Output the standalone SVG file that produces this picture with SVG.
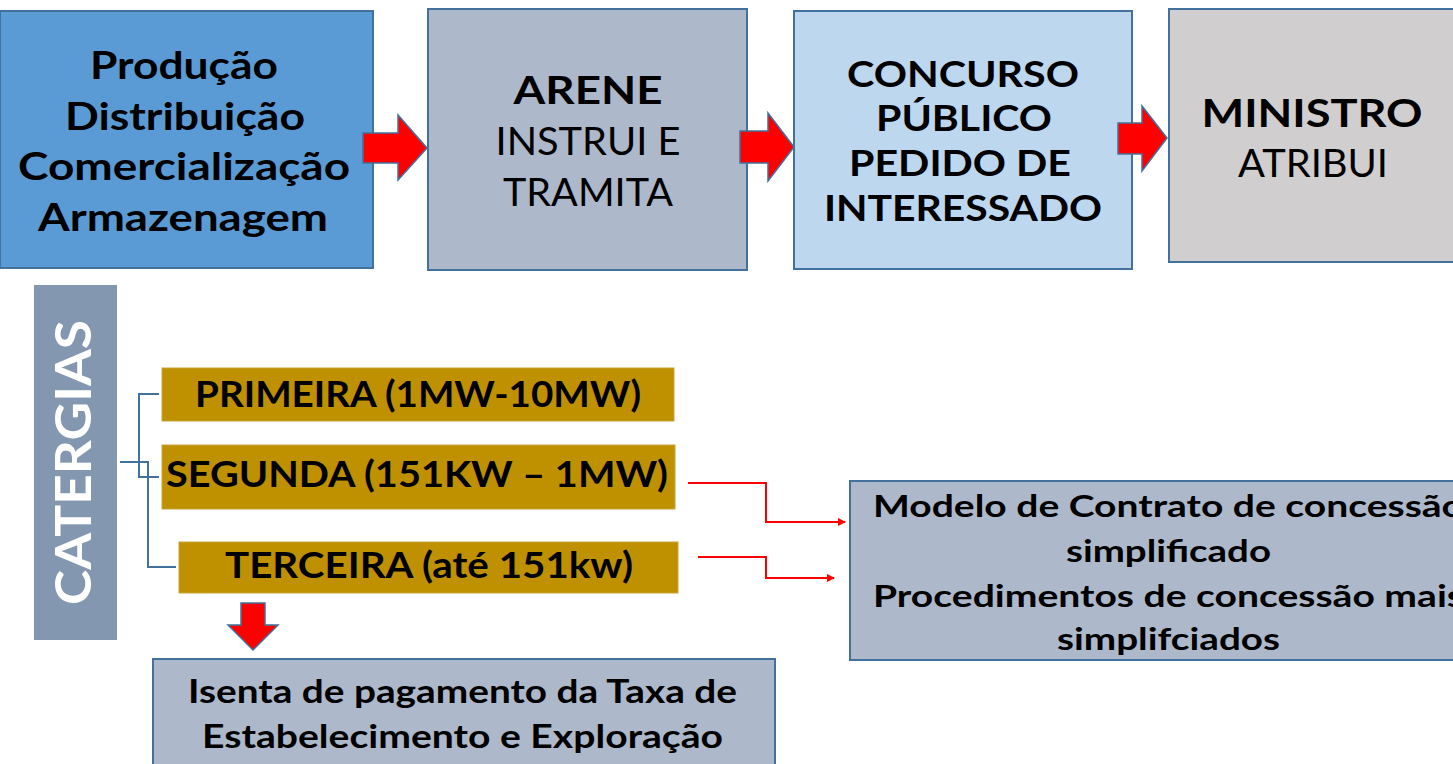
<svg xmlns="http://www.w3.org/2000/svg" width="1453" height="764" viewBox="0 0 1453 764">
<style>
.t{font-family:Lato,"Open Sans","Liberation Sans",sans-serif;fill:#000;text-anchor:middle}
.b{font-weight:bold}
.n{font-weight:normal}
.box{stroke:#41719c;stroke-width:2}
.gold{fill:#bf9000;stroke:#c9a43a;stroke-width:1}
.arr{fill:#ff0000;stroke:#41719c;stroke-width:1.5}
.red{fill:none;stroke:#ff0000;stroke-width:2}
.blue{fill:none;stroke:#41719c;stroke-width:2}
</style>
<defs>
<marker id="ah" markerWidth="8" markerHeight="8" refX="7" refY="4" orient="auto" markerUnits="userSpaceOnUse" viewBox="0 0 8 8">
<path d="M0,0 L8,4 L0,8 z" fill="#ff0000"/>
</marker>
</defs>
<rect width="1453" height="764" fill="#fff"/>
<g id="node-producao">
<rect class="box" x="0" y="11" width="373" height="257" fill="#5b9bd5"/>
<text class="t b" font-size="38" x="184" y="79" textLength="188" lengthAdjust="spacingAndGlyphs">Produção</text>
<text class="t b" font-size="38" x="185" y="130" textLength="240" lengthAdjust="spacingAndGlyphs">Distribuição</text>
<text class="t b" font-size="38" x="184" y="180" textLength="332" lengthAdjust="spacingAndGlyphs">Comercialização</text>
<text class="t b" font-size="38" x="183" y="231" textLength="290" lengthAdjust="spacingAndGlyphs">Armazenagem</text>
</g>
<g id="node-arene">
<rect class="box" x="428" y="9" width="319" height="261" fill="#adb9ca"/>
<text class="t b" font-size="39" x="588" y="104" textLength="149" lengthAdjust="spacingAndGlyphs">ARENE</text>
<text class="t n" font-size="39" x="588" y="155" textLength="185" lengthAdjust="spacingAndGlyphs">INSTRUI E</text>
<text class="t n" font-size="39" x="588" y="206" textLength="170" lengthAdjust="spacingAndGlyphs">TRAMITA</text>
</g>
<g id="node-concurso">
<rect class="box" x="794" y="11" width="338" height="258" fill="#bdd7ee"/>
<text class="t b" font-size="36" x="963" y="87" textLength="232" lengthAdjust="spacingAndGlyphs">CONCURSO</text>
<text class="t b" font-size="36" x="964" y="131" textLength="176" lengthAdjust="spacingAndGlyphs">PÚBLICO</text>
<text class="t b" font-size="36" x="960" y="176" textLength="222" lengthAdjust="spacingAndGlyphs">PEDIDO DE</text>
<text class="t b" font-size="36" x="963" y="221" textLength="278" lengthAdjust="spacingAndGlyphs">INTERESSADO</text>
</g>
<g id="node-ministro">
<rect class="box" x="1169" y="9" width="300" height="253" fill="#d0cece"/>
<text class="t b" font-size="39" x="1312" y="127" textLength="221" lengthAdjust="spacingAndGlyphs">MINISTRO</text>
<text class="t n" font-size="39" x="1313" y="177" textLength="150" lengthAdjust="spacingAndGlyphs">ATRIBUI</text>
</g>
<g id="node-categias">
<rect x="34" y="285" width="83" height="355" fill="#8497b0"/>
<text class="t b" font-size="50" style="fill:#fff" transform="translate(91,462.5) rotate(-90)" textLength="285" lengthAdjust="spacingAndGlyphs">CATERGIAS</text>
</g>
<g id="node-primeira">
<rect class="gold" x="162" y="368" width="512" height="53"/>
<text class="t b" font-size="36" x="418" y="407" textLength="446" lengthAdjust="spacingAndGlyphs">PRIMEIRA (1MW-10MW)</text>
</g>
<g id="node-segunda">
<rect class="gold" x="162" y="445" width="513" height="64"/>
<text class="t b" font-size="36" x="417" y="487" textLength="502" lengthAdjust="spacingAndGlyphs">SEGUNDA (151KW – 1MW)</text>
</g>
<g id="node-terceira">
<rect class="gold" x="179" y="542" width="499" height="51"/>
<text class="t b" font-size="36" x="429" y="578" textLength="408" lengthAdjust="spacingAndGlyphs">TERCEIRA (até 151kw)</text>
</g>
<g id="node-modelo">
<rect class="box" x="850" y="481" width="637" height="179" fill="#adb9ca"/>
<text class="t b" font-size="31" x="1168.5" y="517" textLength="591" lengthAdjust="spacingAndGlyphs">Modelo de Contrato de concessão</text>
<text class="t b" font-size="31" x="1168.5" y="562" textLength="205" lengthAdjust="spacingAndGlyphs">simplificado</text>
<text class="t b" font-size="31" x="1168.5" y="607" textLength="591" lengthAdjust="spacingAndGlyphs">Procedimentos de concessão mais</text>
<text class="t b" font-size="31" x="1168.5" y="650" textLength="223" lengthAdjust="spacingAndGlyphs">simplifciados</text>
</g>
<g id="node-isenta">
<rect class="box" x="153" y="659" width="622" height="120" fill="#adb9ca"/>
<text class="t b" font-size="32" x="462.5" y="703" textLength="549" lengthAdjust="spacingAndGlyphs">Isenta de pagamento da Taxa de</text>
<text class="t b" font-size="32" x="462.5" y="748" textLength="521" lengthAdjust="spacingAndGlyphs">Estabelecimento e Exploração</text>
</g>
<g id="connectors">
<polygon class="arr" points="363,133 398,133 398,115 427,148 398,180 398,163 363,163"/>
<polygon class="arr" points="740,131 768,131 768,113 794,147 768,181 768,163 740,163"/>
<polygon class="arr" points="1118,123 1142,123 1142,106 1167,138 1142,171 1142,154 1118,154"/>
<polygon class="arr" points="241,603 265,603 265,625 278,625 253,650 228,625 241,625"/>
<polyline class="blue" points="120,462 139,462 139,394 159,394"/>
<polyline class="blue" points="120,462 139,462 139,477 159,477"/>
<polyline class="blue" points="139,462 148,462 148,567 176,567"/>
<polyline class="red" points="688,483 766,483 766,522 845,522" marker-end="url(#ah)"/>
<polyline class="red" points="698,557 766,557 766,578 834,578" marker-end="url(#ah)"/>
</g>
</svg>
